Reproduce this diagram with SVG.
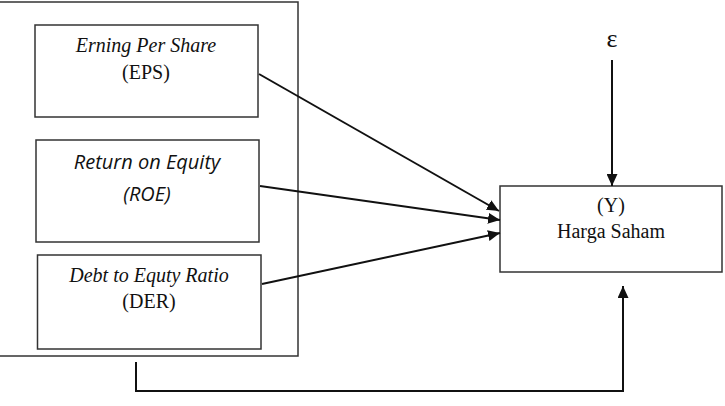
<svg xmlns="http://www.w3.org/2000/svg" width="725" height="406" viewBox="0 0 725 406">
<defs>
<marker id="ah" markerWidth="12" markerHeight="11" refX="12" refY="5.5" orient="auto" markerUnits="userSpaceOnUse">
<path d="M0,0 L12,5.5 L0,11 Z" fill="#111"/>
</marker>
<style>
.box{fill:#fff;stroke:#333;stroke-width:1.5}
.ln{fill:none;stroke:#111;stroke-width:2}
.serif{font-family:"Liberation Serif","Times New Roman",serif;font-size:20px;fill:#111;text-anchor:middle}
.sans{font-family:"Open Sans","Liberation Sans",sans-serif;font-size:20px;fill:#111;text-anchor:middle;font-style:italic}
.it{font-style:italic}
</style>
</defs>
<rect width="725" height="406" fill="#fff"/>
<rect id="group" class="box" x="-2" y="2" width="300" height="354"/>
<g id="eps">
<rect class="box" x="35" y="25" width="223" height="92"/>
<text class="serif it" x="146" y="52">Erning Per Share</text>
<text class="serif" x="146" y="79">(EPS)</text>
</g>
<g id="roe">
<rect class="box" x="36" y="140" width="223" height="102"/>
<text class="sans" x="147" y="169">Return on Equity</text>
<text class="sans" x="147" y="201">(ROE)</text>
</g>
<g id="der">
<rect class="box" x="37.5" y="255" width="223.5" height="94"/>
<text class="serif it" x="149" y="282">Debt to Equty Ratio</text>
<text class="serif" x="149" y="308">(DER)</text>
</g>
<g id="y">
<rect class="box" x="500" y="186" width="222" height="86"/>
<text class="serif" x="611" y="212">(Y)</text>
<text class="serif" x="611" y="238">Harga Saham</text>
</g>
<g id="epsilon">
<text class="serif" x="612" y="47" style="font-size:26px">ε</text>
</g>
<g id="connectors">
<line class="ln" x1="259" y1="74" x2="499" y2="211" marker-end="url(#ah)"/>
<line class="ln" x1="260" y1="186" x2="500" y2="220" marker-end="url(#ah)"/>
<line class="ln" x1="262" y1="284" x2="500" y2="233" marker-end="url(#ah)"/>
<line class="ln" x1="612" y1="60" x2="612" y2="186" marker-end="url(#ah)"/>
<polyline class="ln" points="136,362 136,391 623,391 623,286" marker-end="url(#ah)"/>
</g>
</svg>
